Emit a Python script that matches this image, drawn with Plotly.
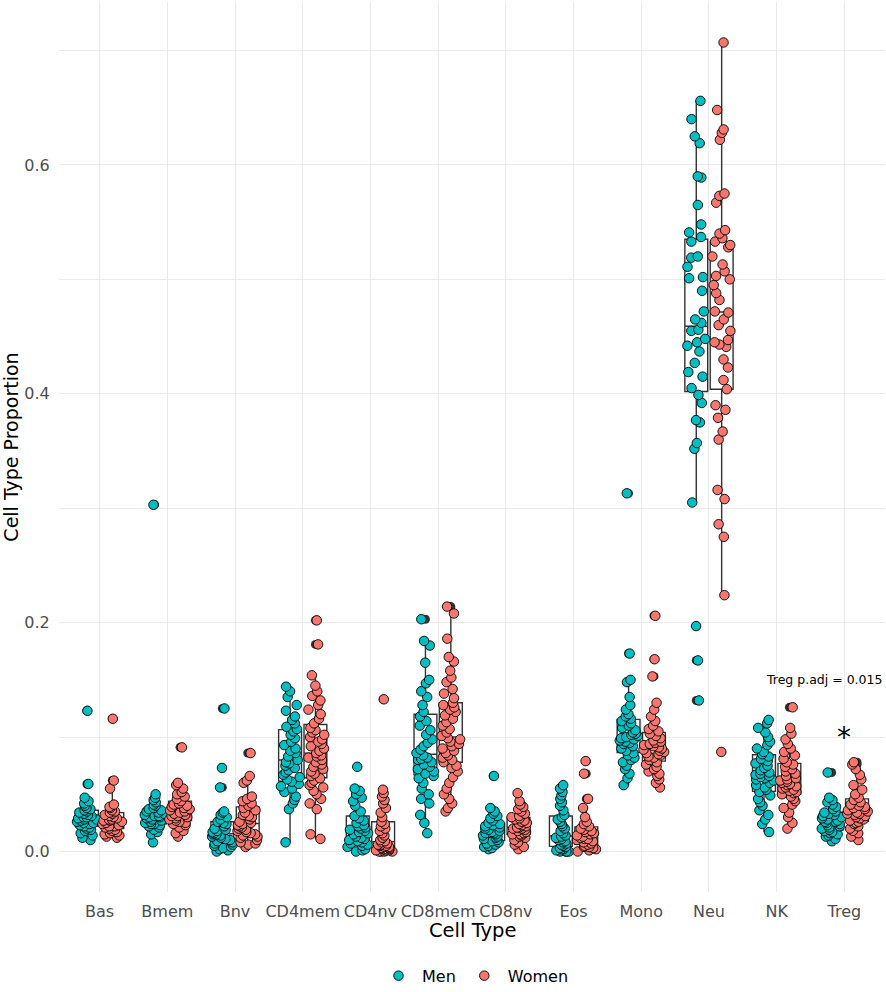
import plotly.graph_objects as go

# ============================================================================
# Data
# ============================================================================

cell_types = ['Bas', 'Bmem', 'Bnv', 'CD4mem', 'CD4nv', 'CD8mem',
              'CD8nv', 'Eos', 'Mono', 'Neu', 'NK', 'Treg']
sexes = ['Men', 'Women']

bas_men = [0.123, 0.059, 0.047, 0.044, 0.042, 0.040, 0.038, 0.037, 0.036, 0.035, 0.034,
           0.033, 0.032, 0.031, 0.030, 0.030, 0.029, 0.028, 0.028, 0.027, 0.026, 0.025,
           0.025, 0.024, 0.023, 0.022, 0.021, 0.020, 0.019, 0.018, 0.016, 0.014, 0.012, 0.010]
bas_women = [0.116, 0.062, 0.055, 0.041, 0.039, 0.038, 0.036, 0.035, 0.034, 0.033, 0.032,
             0.031, 0.030, 0.029, 0.028, 0.028, 0.027, 0.027, 0.026, 0.025, 0.024, 0.023,
             0.022, 0.022, 0.021, 0.020, 0.019, 0.018, 0.017, 0.016, 0.015, 0.014, 0.013, 0.012]
bmem_men = [0.303, 0.050, 0.047, 0.045, 0.043, 0.041, 0.040, 0.038, 0.037, 0.036, 0.035,
            0.034, 0.033, 0.032, 0.031, 0.031, 0.030, 0.030, 0.029, 0.028, 0.027, 0.026,
            0.025, 0.024, 0.024, 0.023, 0.022, 0.021, 0.019, 0.017, 0.015, 0.008]
bmem_women = [0.091, 0.060, 0.058, 0.055, 0.052, 0.050, 0.048, 0.046, 0.044, 0.042, 0.041,
              0.040, 0.039, 0.038, 0.037, 0.036, 0.035, 0.034, 0.033, 0.032, 0.031, 0.031,
              0.030, 0.029, 0.028, 0.027, 0.026, 0.025, 0.024, 0.023, 0.021, 0.018, 0.016, 0.013]
bnv_men = [0.125, 0.073, 0.056, 0.035, 0.034, 0.032, 0.030, 0.028, 0.026, 0.025, 0.024,
           0.022, 0.020, 0.019, 0.018, 0.017, 0.016, 0.015, 0.015, 0.014, 0.013, 0.012,
           0.011, 0.010, 0.009, 0.008, 0.007, 0.006, 0.005, 0.004, 0.003, 0.002, 0.001, 0.000]
bnv_women = [0.086, 0.066, 0.062, 0.060, 0.048, 0.046, 0.044, 0.042, 0.040, 0.038, 0.036,
             0.034, 0.032, 0.031, 0.030, 0.028, 0.026, 0.025, 0.024, 0.023, 0.022, 0.021,
             0.020, 0.019, 0.018, 0.017, 0.016, 0.015, 0.014, 0.013, 0.012, 0.010, 0.008,
             0.007, 0.006, 0.004]
cd4mem_men = [0.144, 0.140, 0.135, 0.128, 0.123, 0.118, 0.115, 0.112, 0.109, 0.107, 0.105,
              0.102, 0.099, 0.096, 0.093, 0.090, 0.088, 0.086, 0.083, 0.080, 0.078, 0.077,
              0.075, 0.073, 0.071, 0.069, 0.067, 0.065, 0.063, 0.061, 0.059, 0.057, 0.055,
              0.052, 0.048, 0.045, 0.042, 0.037, 0.008]
cd4mem_women = [0.202, 0.181, 0.154, 0.145, 0.140, 0.136, 0.132, 0.128, 0.124, 0.120, 0.116,
                0.112, 0.108, 0.106, 0.104, 0.102, 0.100, 0.098, 0.096, 0.094, 0.092, 0.090,
                0.088, 0.086, 0.084, 0.083, 0.082, 0.080, 0.078, 0.076, 0.074, 0.072, 0.070,
                0.068, 0.066, 0.064, 0.062, 0.060, 0.058, 0.056, 0.053, 0.050, 0.046, 0.042,
                0.037, 0.015, 0.011]
cd4nv_men = [0.074, 0.055, 0.053, 0.050, 0.047, 0.044, 0.040, 0.035, 0.031, 0.029, 0.027,
             0.025, 0.023, 0.022, 0.021, 0.020, 0.019, 0.018, 0.017, 0.016, 0.015, 0.013,
             0.012, 0.011, 0.010, 0.009, 0.008, 0.007, 0.006, 0.005, 0.004, 0.002, 0.001, 0.000]
cd4nv_women = [0.133, 0.054, 0.051, 0.048, 0.045, 0.042, 0.038, 0.034, 0.030, 0.026, 0.024,
               0.022, 0.020, 0.018, 0.016, 0.014, 0.012, 0.010, 0.009, 0.008, 0.007, 0.006,
               0.006, 0.005, 0.005, 0.004, 0.004, 0.003, 0.003, 0.002, 0.002, 0.001, 0.001,
               0.001, 0.000, 0.000, 0.000, 0.000]
cd8mem_men = [0.203, 0.184, 0.180, 0.165, 0.150, 0.147, 0.140, 0.135, 0.128, 0.122, 0.118,
              0.114, 0.110, 0.106, 0.102, 0.098, 0.095, 0.092, 0.089, 0.086, 0.084, 0.082,
              0.081, 0.080, 0.078, 0.076, 0.074, 0.072, 0.070, 0.068, 0.066, 0.064, 0.060,
              0.055, 0.050, 0.046, 0.042, 0.032, 0.025, 0.016]
cd8mem_women = [0.214, 0.208, 0.186, 0.170, 0.166, 0.158, 0.152, 0.148, 0.142, 0.138, 0.134,
                0.130, 0.128, 0.126, 0.124, 0.122, 0.119, 0.116, 0.113, 0.110, 0.107, 0.104,
                0.101, 0.099, 0.098, 0.096, 0.094, 0.092, 0.090, 0.088, 0.086, 0.084, 0.082,
                0.080, 0.078, 0.075, 0.073, 0.070, 0.065, 0.060, 0.055, 0.050, 0.046, 0.042,
                0.038, 0.035]
cd8nv_men = [0.066, 0.038, 0.035, 0.033, 0.031, 0.029, 0.027, 0.025, 0.024, 0.023, 0.022,
             0.021, 0.020, 0.019, 0.018, 0.017, 0.016, 0.016, 0.015, 0.014, 0.013, 0.012,
             0.011, 0.010, 0.009, 0.008, 0.007, 0.006, 0.005, 0.004, 0.003, 0.002]
cd8nv_women = [0.051, 0.044, 0.041, 0.039, 0.037, 0.035, 0.033, 0.031, 0.030, 0.029, 0.028,
               0.027, 0.026, 0.025, 0.024, 0.023, 0.022, 0.021, 0.021, 0.020, 0.020, 0.019,
               0.018, 0.017, 0.016, 0.015, 0.015, 0.014, 0.013, 0.012, 0.010, 0.008, 0.006,
               0.004, 0.002]
eos_men = [0.058, 0.055, 0.052, 0.049, 0.046, 0.043, 0.040, 0.036, 0.032, 0.030, 0.028,
           0.026, 0.024, 0.022, 0.020, 0.018, 0.016, 0.014, 0.013, 0.012, 0.011, 0.010,
           0.009, 0.008, 0.007, 0.006, 0.005, 0.004, 0.003, 0.002, 0.002, 0.001, 0.000,
           0.000, 0.000, 0.000]
eos_women = [0.079, 0.068, 0.046, 0.038, 0.030, 0.026, 0.024, 0.022, 0.020, 0.019, 0.018,
             0.017, 0.016, 0.015, 0.014, 0.013, 0.012, 0.011, 0.011, 0.010, 0.009, 0.008,
             0.007, 0.006, 0.005, 0.004, 0.004, 0.003, 0.002, 0.001, 0.000]
mono_men = [0.313, 0.173, 0.150, 0.148, 0.135, 0.128, 0.124, 0.120, 0.118, 0.116, 0.114,
            0.112, 0.110, 0.108, 0.106, 0.104, 0.103, 0.102, 0.101, 0.100, 0.099, 0.098,
            0.097, 0.096, 0.095, 0.094, 0.092, 0.090, 0.088, 0.086, 0.084, 0.082, 0.080,
            0.078, 0.075, 0.072, 0.068, 0.064, 0.058]
mono_women = [0.206, 0.168, 0.153, 0.130, 0.124, 0.118, 0.114, 0.110, 0.107, 0.105, 0.103,
              0.101, 0.099, 0.097, 0.096, 0.095, 0.094, 0.093, 0.092, 0.091, 0.090, 0.089,
              0.088, 0.087, 0.086, 0.085, 0.084, 0.083, 0.082, 0.080, 0.078, 0.076, 0.074,
              0.072, 0.070, 0.068, 0.066, 0.063, 0.060, 0.056]
neu_men = [0.656, 0.640, 0.625, 0.619, 0.590, 0.589, 0.565, 0.548, 0.541, 0.537, 0.533,
           0.520, 0.519, 0.511, 0.502, 0.501, 0.490, 0.472, 0.465, 0.462, 0.456, 0.455,
           0.448, 0.445, 0.442, 0.437, 0.427, 0.419, 0.415, 0.405, 0.399, 0.392,
           0.377, 0.375, 0.357, 0.352, 0.305, 0.197, 0.167, 0.132]
neu_women = [0.707, 0.648, 0.631, 0.628, 0.622, 0.575, 0.573, 0.567, 0.543, 0.540, 0.536,
             0.533, 0.530, 0.528, 0.520, 0.513, 0.507, 0.503, 0.500, 0.495, 0.488, 0.482,
             0.472, 0.471, 0.465, 0.460, 0.455, 0.447, 0.445, 0.443, 0.441, 0.430, 0.423,
             0.412, 0.404, 0.390, 0.386, 0.379, 0.367, 0.360, 0.316, 0.308, 0.286, 0.275,
             0.224, 0.087]
nk_men = [0.115, 0.112, 0.108, 0.104, 0.100, 0.096, 0.093, 0.090, 0.087, 0.085, 0.083,
          0.081, 0.079, 0.077, 0.075, 0.073, 0.071, 0.069, 0.068, 0.067, 0.066, 0.065,
          0.064, 0.063, 0.062, 0.060, 0.058, 0.056, 0.054, 0.052, 0.049, 0.046, 0.043,
          0.040, 0.036, 0.032, 0.028, 0.024, 0.017]
nk_women = [0.126, 0.108, 0.103, 0.098, 0.094, 0.090, 0.087, 0.084, 0.081, 0.078, 0.076,
            0.074, 0.072, 0.070, 0.068, 0.066, 0.064, 0.063, 0.062, 0.061, 0.060, 0.059,
            0.058, 0.057, 0.056, 0.055, 0.054, 0.053, 0.052, 0.051, 0.050, 0.048, 0.046,
            0.044, 0.041, 0.038, 0.034, 0.030, 0.025, 0.020]
treg_men = [0.069, 0.047, 0.045, 0.043, 0.041, 0.039, 0.037, 0.035, 0.034, 0.033, 0.032,
            0.031, 0.030, 0.029, 0.028, 0.027, 0.026, 0.026, 0.025, 0.024, 0.023, 0.022,
            0.021, 0.020, 0.019, 0.018, 0.017, 0.016, 0.015, 0.014, 0.013, 0.011, 0.009]
treg_women = [0.078, 0.076, 0.072, 0.067, 0.063, 0.058, 0.054, 0.050, 0.047, 0.045, 0.043,
              0.041, 0.040, 0.039, 0.038, 0.037, 0.036, 0.035, 0.034, 0.033, 0.033, 0.032,
              0.031, 0.030, 0.029, 0.028, 0.027, 0.026, 0.025, 0.024, 0.022, 0.020, 0.018,
              0.016, 0.013, 0.010]

men_values = [bas_men, bmem_men, bnv_men, cd4mem_men, cd4nv_men, cd8mem_men,
              cd8nv_men, eos_men, mono_men, neu_men, nk_men, treg_men]
women_values = [bas_women, bmem_women, bnv_women, cd4mem_women, cd4nv_women, cd8mem_women,
                cd8nv_women, eos_women, mono_women, neu_women, nk_women, treg_women]

y_ticks = [0.0, 0.2, 0.4, 0.6]
y_tick_labels = ['0.0', '0.2', '0.4', '0.6']
annotation_text = 'Treg p.adj = 0.015'

colors = {'Men': '#00BFC4', 'Women': '#F8766D'}
FONT = 'DejaVu Sans'

# ============================================================================
# Plot Creation
# ============================================================================

fig = go.Figure()


def flatten(groups):
    xs, ys = [], []
    for cat, vals in zip(cell_types, groups):
        xs += [cat] * len(vals)
        ys += vals
    return xs, ys


# boxes with black outlier points (drawn first, below the jitter)
for sex, groups in zip(sexes, [men_values, women_values]):
    xs, ys = flatten(groups)
    fig.add_trace(go.Box(
        x=xs, y=ys, name=sex, offsetgroup=sex,
        boxpoints='outliers',
        marker=dict(color='#333333', size=9, line=dict(width=0)),
        line=dict(color='#333333', width=1.4),
        fillcolor='rgba(255,255,255,0)',
        whiskerwidth=0,
        showlegend=False
    ))

# jittered points on top
for sex, groups in zip(sexes, [men_values, women_values]):
    xs, ys = flatten(groups)
    fig.add_trace(go.Box(
        x=xs, y=ys, name=sex, offsetgroup=sex,
        boxpoints='all', jitter=0.95, pointpos=0,
        marker=dict(color=colors[sex], size=9.5, line=dict(color='black', width=0.9)),
        line=dict(color='rgba(0,0,0,0)', width=0),
        fillcolor='rgba(0,0,0,0)',
        whiskerwidth=0,
        showlegend=False
    ))

# legend entries
for sex in sexes:
    fig.add_trace(go.Scatter(
        x=[None], y=[None], mode='markers', name=sex,
        marker=dict(color=colors[sex], size=9.5, line=dict(color='black', width=0.9))
    ))

fig.add_annotation(x='Treg', y=0.150, text=annotation_text, showarrow=False,
                   xshift=-20, font=dict(size=12.5, color='black', family=FONT))
fig.add_annotation(x='Treg', y=0.100, text='*', showarrow=False,
                   font=dict(size=28, color='black', family=FONT))
# x axis title
fig.add_annotation(x=0.5, y=-0.0427, xref='paper', yref='paper', text='Cell Type',
                   showarrow=False, yanchor='middle',
                   font=dict(size=19.5, color='black', family=FONT))

fig.update_layout(
    width=886, height=992,
    margin=dict(l=59, r=1, t=2, b=100, autoexpand=False),
    paper_bgcolor='white', plot_bgcolor='white',
    font=dict(family=FONT, color='black'),
    boxmode='group', boxgap=0.25, boxgroupgap=0.1,
    legend=dict(orientation='h', x=0.503, xanchor='center', y=-0.075, yanchor='top',
                font=dict(size=16), itemwidth=37),
    xaxis=dict(
        type='category', categoryorder='array', categoryarray=cell_types,
        range=[-0.6, 11.6],
        showgrid=True, gridcolor='#EBEBEB', gridwidth=1.2,
        ticks='outside', ticklen=5, tickcolor='rgba(0,0,0,0)',
        tickfont=dict(size=16, color='#4D4D4D'),
        zeroline=False, showline=False, automargin=False
    ),
    yaxis=dict(
        range=[-0.0354, 0.7424],
        tickvals=y_ticks, ticktext=y_tick_labels,
        showgrid=True, gridcolor='#EBEBEB', gridwidth=1.2,
        minor=dict(tickvals=[0.1, 0.3, 0.5, 0.7], showgrid=True,
                   gridcolor='#EBEBEB', gridwidth=0.6),
        ticks='outside', ticklen=5, tickcolor='rgba(0,0,0,0)',
        tickfont=dict(size=16, color='#4D4D4D'),
        title=dict(text='Cell Type Proportion', font=dict(size=19), standoff=4),
        zeroline=False, showline=False, automargin=False
    )
)

fig.write_html("out.html", config={'displayModeBar': False},
               post_script="document.body.style.margin='0px';")
